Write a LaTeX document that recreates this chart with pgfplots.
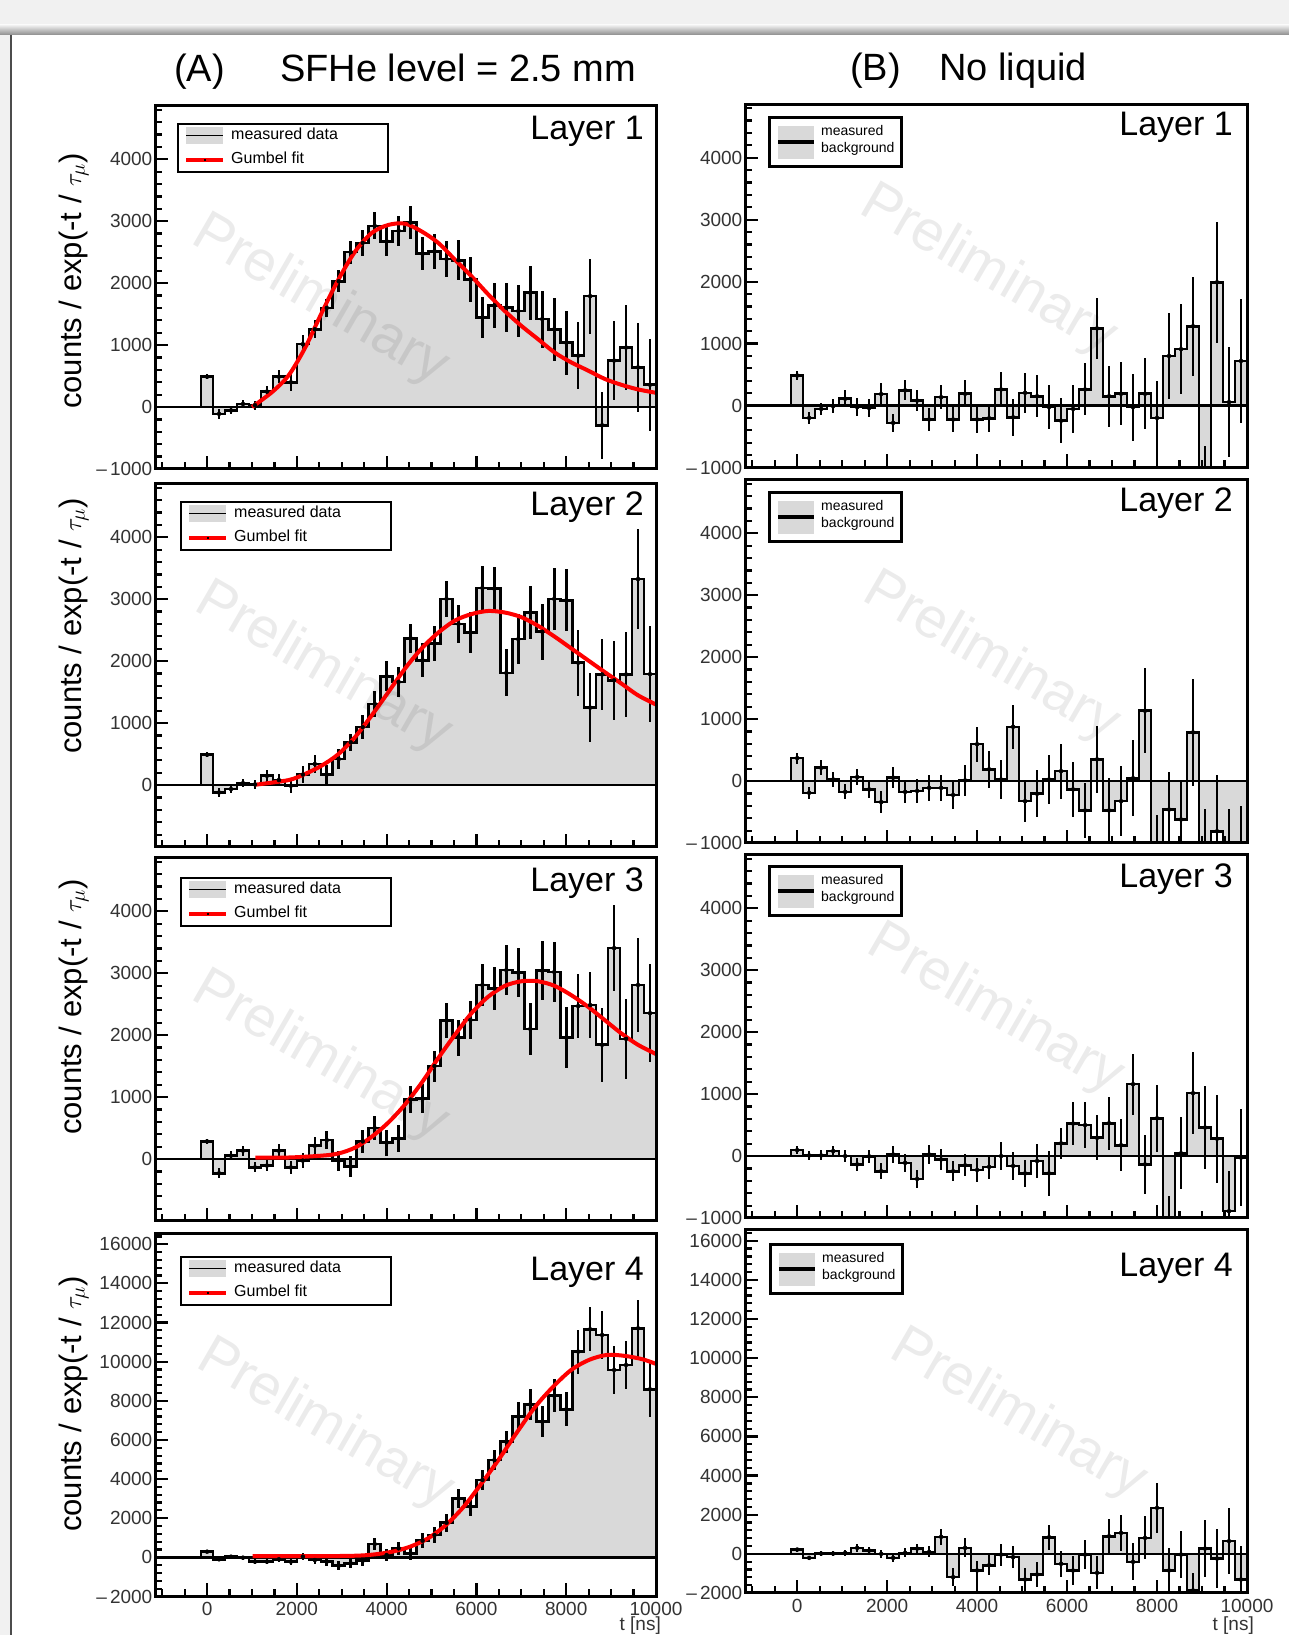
\documentclass[border=0pt]{standalone}
\usepackage{pgfplots}
\pgfplotsset{compat=1.18}
\usepackage{pgfplotstable}
\usepackage{fontspec}
\setmainfont{Liberation Sans}
\definecolor{fillgray}{HTML}{D9D9D9}
\definecolor{bggray}{HTML}{F1F1F1}
\newcommand{\fs}[1]{\fontsize{#1}{#1}\selectfont}

% ---- data: one row per 266.67 ns bin, first row = bin -1, last row repeats final bin
\pgfplotstableread{
y e
0 0
490 45
-110 80
-55 60
50 65
30 75
250 95
490 100
400 145
1015 140
1255 145
1600 150
2030 180
2500 185
2650 215
2925 220
2675 240
2845 240
2980 265
2475 270
2515 285
2390 295
2370 320
2060 360
1445 335
1640 365
1605 400
1550 415
1845 435
1420 460
1255 510
1040 515
830 535
1790 605
-295 545
750 640
960 680
640 720
360 740
360 0
}\tLa
\pgfplotstableread{
y e
0 0
490 45
-120 80
-65 60
30 65
10 75
150 95
80 100
-10 120
170 130
340 140
170 150
420 165
690 135
935 195
1310 215
1755 240
1665 245
2370 235
2015 275
2285 290
3005 285
2600 310
2465 330
3180 360
3170 355
1810 380
2355 400
2785 430
2475 450
3005 500
2980 500
1975 530
1250 555
1785 580
1690 640
1785 690
3325 810
1790 770
1790 0
}\tLb
\pgfplotstableread{
y e
0 0
285 45
-230 80
55 70
135 80
-135 80
-105 90
135 100
-135 110
-25 120
215 140
305 150
-25 160
-125 170
285 190
500 200
265 210
335 220
960 215
975 230
1500 250
2235 280
1960 290
2245 300
2810 335
2755 350
3050 400
3010 400
2100 415
3040 480
3020 480
1960 495
2470 510
2485 530
1845 600
3405 700
1940 650
2810 765
2355 795
2355 0
}\tLc
\pgfplotstableread{
y e
0 0
290 80
-100 90
35 100
-15 110
-220 130
-220 140
-100 150
-220 170
35 180
-135 200
-220 210
-425 230
-305 250
-170 260
680 300
120 310
460 330
205 350
850 380
1140 410
1770 470
3015 470
2590 480
3955 510
4975 510
5915 560
7190 765
7820 780
6935 800
8265 840
7565 870
10515 1120
11655 1115
11365 1210
9575 1205
9830 1250
11705 1465
8590 1400
8590 0
}\tLd
\pgfplotstableread{
y e
0 0
485 70
-200 95
-55 100
-10 110
110 135
-25 140
-40 150
185 175
-280 150
245 160
80 170
-225 190
135 195
-225 200
190 215
-225 215
-205 230
260 285
-190 300
205 325
150 340
-25 350
-245 365
-55 390
260 420
1245 490
150 490
190 505
-25 540
190 575
-200 595
800 690
910 725
1280 800
-1500 850
1990 980
55 890
720 1000
720 0
}\tRa
\pgfplotstableread{
y e
0 0
370 90
-190 95
215 120
25 120
-175 120
65 130
-135 140
-340 175
55 170
-175 180
-160 190
-110 215
-110 215
-225 230
10 250
595 285
190 300
25 320
875 350
-325 340
-205 380
25 400
160 445
-135 440
-475 445
350 540
-475 530
-325 560
45 610
1135 690
-1200 650
-460 610
-620 630
785 865
-1200 750
-810 900
-1300 850
-1300 900
-1300 0
}\tRb
\pgfplotstableread{
y e
0 0
95 60
10 70
10 80
80 80
0 90
-135 100
-5 110
-245 130
25 130
-110 140
-370 150
25 160
-55 165
-245 160
-150 180
-225 190
-175 200
0 230
-160 220
-280 215
-80 270
-280 365
205 255
525 340
500 365
295 365
530 425
175 420
1160 490
-135 475
610 540
-1200 560
45 580
1015 660
460 675
280 710
-890 650
-25 780
-25 0
}\tRc
\pgfplotstableread{
y e
0 0
220 100
-205 120
15 130
15 140
50 150
305 200
170 180
0 200
-205 220
50 230
270 250
100 280
870 425
-1190 470
305 480
-850 510
-580 520
-35 560
-170 570
-1310 600
-1055 620
850 640
-510 680
-850 720
-35 760
-970 850
900 900
1070 935
-410 950
815 1100
2350 1275
-850 1150
-35 1200
-1870 900
270 1450
-240 1500
650 1700
-1310 1700
-1310 0
}\tRd

\pgfplotsset{
  panel/.style={
    scale only axis, width=501pt, height=363pt, anchor=north west,
    xmin=-1160, xmax=10000,
    scaled x ticks=false, scaled y ticks=false,
    axis on top,
    axis line style={line width=3pt},
    tick align=inside, tick pos=left,
    major tick length=13pt, minor tick length=7pt,
    tick style={black, line width=2.2pt},
    xtick={0,2000,...,10000}, minor xtick={-1000,-500,...,9500},
    xticklabels={},
    tick label style={font=\fs{19}, text=black!80},
    yticklabel style={inner sep=1pt, xshift=-1.5pt},
    xticklabel style={inner sep=0pt, yshift=-6pt},
  },
  smallrange/.style={ymin=-1000, ymax=4860, ytick={-1000,0,...,4000},
    minor ytick={-800,-600,...,4800}},
  bigrange/.style={ymin=-2000, ymax=16550, ytick={-2000,0,...,16000},
    minor ytick={-1600,-1200,...,16400}},
}
\newcommand{\hist}[1]{%
  \addplot[fill=fillgray, draw=black, line width=2.6pt, const plot mark mid]
    table[x expr=(\coordindex-1)*266.667, y=y]{#1} \closedcycle;
  \addplot[black, only marks, mark=none, skip coords between index={0}{1},
    skip coords between index={39}{40},
    error bars/.cd, y dir=both, y explicit,
    error mark=none, error bar style={line width=2.6pt, black}]
    table[x expr=(\coordindex-1)*266.667, y=y, y error=e]{#1};
  \draw[black, line width=2.6pt] (axis cs:-1160,0) -- (axis cs:10000,0);
}
\tikzset{px/.style={x=1pt, y=-1pt, shift={(0pt,1635pt)}}}
\newcommand{\legdata}[2]{%
  \begin{scope}[shift={(#1,#2)}]
    \fill[white] (0,0) rectangle (210,48);
    \fill[fillgray] (8,3) rectangle (45,20);
    \draw[black, line width=1.6pt] (8,11.5) -- (45,11.5);
    \draw[red, line width=4pt] (8,36) -- (45,36);
    \fill[black] (25.5,35) rectangle (27.5,37);
    \node[anchor=base west, inner sep=0pt, font=\fs{16}] at (53,16) {measured data};
    \node[anchor=base west, inner sep=0pt, font=\fs{16}] at (53,40) {Gumbel fit};
    \draw[black, line width=2pt] (0,0) rectangle (210,48);
  \end{scope}}
\newcommand{\legbg}[2]{%
  \begin{scope}[shift={(#1,#2)}]
    \fill[white] (0,0) rectangle (132,49);
    \fill[fillgray] (9,8) rectangle (45,41);
    \draw[black, line width=4pt] (9,24.5) -- (45,24.5);
    \node[anchor=base west, inner sep=0pt, font=\fs{14}] at (52,18) {measured};
    \node[anchor=base west, inner sep=0pt, font=\fs{14}] at (52,35) {background};
    \draw[black, line width=3pt] (0,0) rectangle (132,49);
  \end{scope}}
\newcommand{\prelim}[2]{%
  \node[rotate=-30, font=\fs{57}, text=black, text opacity=0.08] at (#1,#2) {Preliminary};}

\begin{document}
\begin{tikzpicture}
\useasboundingbox (0,0) rectangle (1289pt,1635pt);
\begin{scope}[px]
  \fill[bggray] (0,0) rectangle (1289,1635);
  \shade[top color=bggray, bottom color=black!45] (0,25) rectangle (1289,35);
  \fill[white] (11,35) rectangle (1289,1635);
  \draw[black!70, line width=1.2pt] (11,35) -- (11,1635);
\end{scope}

% ---------------- left column
\begin{axis}[panel, smallrange, at={(155pt,1529pt)},
  yticklabels={\textendash\,1000,0,1000,2000,3000,4000}]
\hist{\tLa}
\addplot[red, line width=4pt, smooth] coordinates {(1000,0)(1445,240)(1815,510)(2186,960)(2556,1525)(2927,2060)(3297,2510)(3668,2810)(4038,2940)(4409,2960)(4779,2835)(5150,2650)(5520,2380)(5891,2110)(6261,1820)(6632,1550)(7002,1310)(7373,1095)(7743,880)(8114,720)(8484,590)(8855,455)(9225,360)(9596,285)(10000,230)};
\end{axis}

\begin{axis}[panel, smallrange, at={(155pt,1151pt)},
  yticklabels={{},0,1000,2000,3000,4000}]
\hist{\tLb}
\addplot[red, line width=4pt, smooth] coordinates {(1074,5)(1815,80)(2186,180)(2556,315)(2927,500)(3297,775)(3668,1125)(4038,1500)(4409,1880)(4779,2205)(5150,2460)(5520,2655)(5891,2760)(6261,2810)(6632,2785)(7002,2710)(7373,2570)(7743,2395)(8114,2205)(8484,2015)(8855,1825)(9225,1640)(9596,1450)(10000,1300)};
\end{axis}

\begin{axis}[panel, smallrange, at={(155pt,777pt)},
  yticklabels={{},0,1000,2000,3000,4000}]
\hist{\tLc}
\addplot[red, line width=4pt, smooth] coordinates {(1074,25)(1815,25)(2556,55)(2927,90)(3297,185)(3668,360)(4038,590)(4409,880)(4779,1230)(5150,1630)(5520,2005)(5891,2355)(6261,2620)(6632,2795)(7002,2870)(7373,2870)(7743,2795)(8114,2645)(8484,2460)(8855,2245)(9225,2030)(9596,1845)(10000,1695)};
\end{axis}

\begin{axis}[panel, bigrange, at={(155pt,401.5pt)},
  yticklabels={\textendash\,2000,0,2000,4000,6000,8000,10000,12000,14000,16000},
  xticklabels={0,2000,4000,6000,8000,10000}]
\hist{\tLd}
\addplot[red, line width=4pt, smooth] coordinates {(1013,60)(1730,60)(2528,60)(3325,85)(3724,150)(4123,290)(4521,545)(4920,970)(5319,1650)(5717,2590)(6116,3785)(6515,5060)(6914,6425)(7312,7700)(7711,8725)(8110,9575)(8508,10090)(8907,10345)(9306,10295)(9705,10120)(10000,9885)};
\end{axis}

% ---------------- right column
\begin{axis}[panel, smallrange, width=502pt, at={(745pt,1530.5pt)},
  yticklabels={\textendash\,1000,0,1000,2000,3000,4000}]
\hist{\tRa}
\end{axis}

\begin{axis}[panel, smallrange, width=502pt, at={(745pt,1155pt)},
  yticklabels={\textendash\,1000,0,1000,2000,3000,4000}]
\hist{\tRb}
\end{axis}

\begin{axis}[panel, smallrange, width=502pt, at={(745pt,780pt)},
  yticklabels={\textendash\,1000,0,1000,2000,3000,4000}]
\hist{\tRc}
\end{axis}

\begin{axis}[panel, bigrange, width=502pt, at={(745pt,405pt)},
  yticklabels={\textendash\,2000,0,2000,4000,6000,8000,10000,12000,14000,16000},
  xticklabels={0,2000,4000,6000,8000,10000}]
\hist{\tRd}
\end{axis}

% ---------------- annotations
\begin{scope}[px]
  \node[anchor=base west, inner sep=0pt, font=\fs{38}] at (174,82) {(A)};
  \node[anchor=base west, inner sep=0pt, font=\fs{38}] at (280,82) {SFHe level = 2.5 mm};
  \node[anchor=base west, inner sep=0pt, font=\fs{38}] at (850,81) {(B)};
  \node[anchor=base west, inner sep=0pt, font=\fs{38}] at (939,81) {No liquid};

  \foreach \yy in {281,626,1007,1404}{
    \node[rotate=90, anchor=base, inner sep=0pt, font=\fs{31}] at (81,\yy) {counts / exp(-t / $\tau_{\mu}$)};
  }

  \node[anchor=base east, inner sep=0pt, font=\fs{34}] at (644,140) {Layer 1};
  \node[anchor=base east, inner sep=0pt, font=\fs{34}] at (644,516) {Layer 2};
  \node[anchor=base east, inner sep=0pt, font=\fs{34}] at (644,892) {Layer 3};
  \node[anchor=base east, inner sep=0pt, font=\fs{34}] at (644,1281) {Layer 4};
  \node[anchor=base east, inner sep=0pt, font=\fs{34}] at (1233,136) {Layer 1};
  \node[anchor=base east, inner sep=0pt, font=\fs{34}] at (1233,512) {Layer 2};
  \node[anchor=base east, inner sep=0pt, font=\fs{34}] at (1233,888) {Layer 3};
  \node[anchor=base east, inner sep=0pt, font=\fs{34}] at (1233,1277) {Layer 4};

  \node[anchor=base east, inner sep=0pt, font=\fs{19}, text=black!80] at (661,1630) {t [ns]};
  \node[anchor=base east, inner sep=0pt, font=\fs{19}, text=black!80] at (1254,1630) {t [ns]};

  \legdata{178}{124}
  \legdata{181}{502}
  \legdata{181}{878}
  \legdata{181}{1257}
  \legbg{769}{118}
  \legbg{769}{493}
  \legbg{769}{867}
  \legbg{770}{1245}

  \prelim{320}{301}
  \prelim{323}{668}
  \prelim{320}{1057}
  \prelim{325}{1425}
  \prelim{988}{271}
  \prelim{991}{658}
  \prelim{995}{1010}
  \prelim{1018}{1415}
\end{scope}
\end{tikzpicture}
\end{document}
